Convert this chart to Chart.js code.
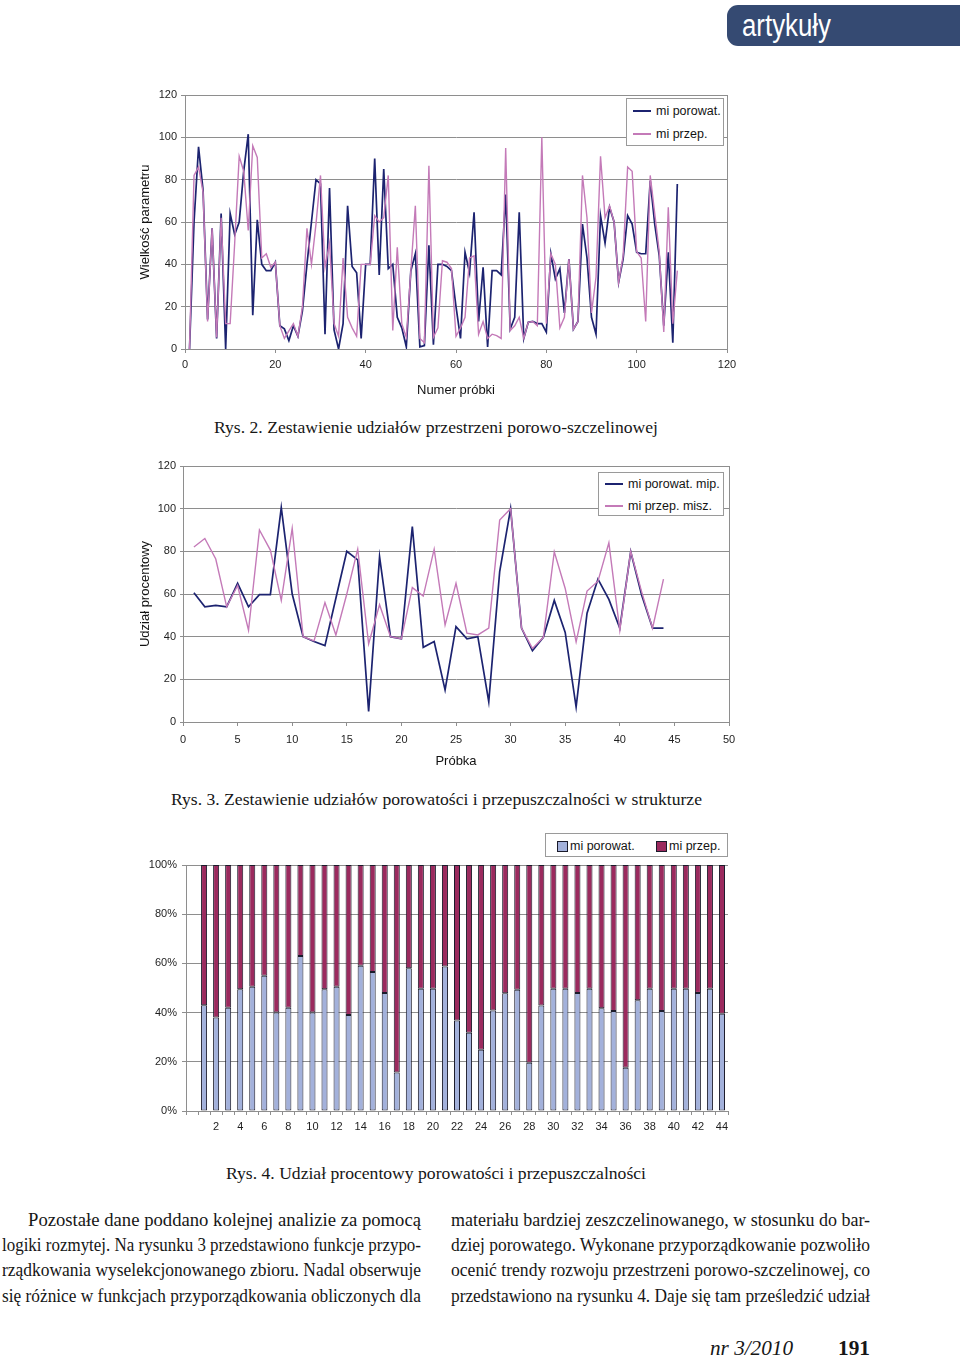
<!DOCTYPE html>
<html><head><meta charset="utf-8">
<script src="https://cdn.jsdelivr.net/npm/chart.js@4.4.0/dist/chart.umd.min.js"></script>
<style>
html,body{margin:0;padding:0;background:#fff;}
body{width:960px;height:1356px;position:relative;overflow:hidden;font-family:"Liberation Sans",Arial,sans-serif;}
.cv{position:absolute;}
.fit{position:absolute;white-space:nowrap;transform-origin:0 50%;line-height:1;}
.serif{font-family:"Liberation Serif","Times New Roman",serif;color:#161616;}
.legend{position:absolute;background:#fff;border:1px solid #9a9a9a;box-sizing:border-box;font-family:"Liberation Sans",Arial,sans-serif;font-size:12.5px;color:#141414;}
.legend .ln{position:absolute;height:2px;}
.legend .tx{position:absolute;white-space:nowrap;line-height:1;}
.legend .sw{position:absolute;width:9px;height:9px;border:1px solid #1b1b2b;}
#hdr{position:absolute;left:727px;top:5px;width:260px;height:41px;background:#354a72;border-radius:11px;}
</style></head>
<body>
<div id="hdr"></div>
<div class="fit" data-w="89" style="left:742px;top:10px;font-size:31px;color:#fff;font-family:'Liberation Sans',Arial,sans-serif;">artykuły</div>

<canvas id="c1" class="cv" width="620" height="320" style="left:130px;top:80px;"></canvas>
<div class="legend" style="left:626px;top:98px;width:98px;height:48px;">
  <div class="ln" style="left:6px;top:11px;width:18px;background:#1c2370;"></div>
  <div class="tx" style="left:29px;top:6px;">mi porowat.</div>
  <div class="ln" style="left:6px;top:34px;width:18px;background:#c47ab8;height:1.5px;"></div>
  <div class="tx" style="left:29px;top:29px;">mi przep.</div>
</div>
<div class="fit serif" data-w="444" style="left:214px;top:419px;font-size:17px;">Rys. 2. Zestawienie udziałów przestrzeni porowo-szczelinowej</div>

<canvas id="c2" class="cv" width="620" height="330" style="left:130px;top:450px;"></canvas>
<div class="legend" style="left:598px;top:472px;width:126px;height:44px;">
  <div class="ln" style="left:6px;top:10px;width:18px;background:#1c2370;"></div>
  <div class="tx" style="left:29px;top:5px;">mi porowat. mip.</div>
  <div class="ln" style="left:6px;top:32px;width:18px;background:#c47ab8;height:1.5px;"></div>
  <div class="tx" style="left:29px;top:27px;">mi przep. misz.</div>
</div>
<div class="fit serif" data-w="531" style="left:171px;top:791px;font-size:17px;">Rys. 3. Zestawienie udziałów porowatości i przepuszczalności w strukturze</div>

<canvas id="c3" class="cv" width="620" height="320" style="left:130px;top:825px;"></canvas>
<div class="legend" style="left:545px;top:833px;width:183px;height:24px;">
  <div class="sw" style="left:11px;top:7px;background:#a3b1db;"></div>
  <div class="tx" style="left:24px;top:6px;">mi porowat.</div>
  <div class="sw" style="left:110px;top:7px;background:#9b2a5e;"></div>
  <div class="tx" style="left:123px;top:6px;">mi przep.</div>
</div>
<div class="fit serif" data-w="420" style="left:226px;top:1165px;font-size:17px;">Rys. 4. Udział procentowy porowatości i przepuszczalności</div>

<div class="fit serif" data-w="393" style="left:28px;top:1211px;font-size:18px;">Pozostałe dane poddano kolejnej analizie za pomocą</div>
<div class="fit serif" data-w="419" style="left:2px;top:1236px;font-size:18px;">logiki rozmytej. Na rysunku 3 przedstawiono funkcje przypo-</div>
<div class="fit serif" data-w="419" style="left:2px;top:1261px;font-size:18px;">rządkowania wyselekcjonowanego zbioru. Nadal obserwuje</div>
<div class="fit serif" data-w="419" style="left:2px;top:1287px;font-size:18px;">się różnice w funkcjach przyporządkowania obliczonych dla</div>

<div class="fit serif" data-w="419" style="left:451px;top:1211px;font-size:18px;">materiału bardziej zeszczelinowanego, w stosunku do bar-</div>
<div class="fit serif" data-w="419" style="left:451px;top:1236px;font-size:18px;">dziej porowatego. Wykonane przyporządkowanie pozwoliło</div>
<div class="fit serif" data-w="419" style="left:451px;top:1261px;font-size:18px;">ocenić trendy rozwoju przestrzeni porowo-szczelinowej, co</div>
<div class="fit serif" data-w="419" style="left:451px;top:1287px;font-size:18px;">przedstawiono na rysunku 4. Daje się tam prześledzić udział</div>

<div class="fit serif" data-w="83" style="left:710px;top:1338px;font-size:20px;font-style:italic;">nr 3/2010</div>
<div class="fit serif" data-w="32" style="left:838px;top:1338px;font-size:20px;font-weight:bold;">191</div>

<script>
// ---- Rys. 2 data ----
const sampleNo1 = Array.from({length:109},(_,i)=>i+1);
const miPorowat1 = [0,60,95.5,75,14,57,5,64,0,64, 54,60,84,101.5,16,61,40,37,37,41, 11,9.5,4,11,6,18,40,60,80,78, 7,76,9,0,12,67.7,39,36,5,40, 40,90,35,85,38,40,15,10,1,37, 45,1,1.6,49,2,40,40,39,37,20, 5,45.7,36,64.6,13,38.6,1,37,37,35, 73,9.4,15,64.6,5,12.6,13,12,12,8, 45,33,38,17,42.5,9.4,13,59,43,15, 7,63,50,67,60,31.5,42.5,63,59,45.7, 45,45,79.5,59,44,11,45.7,3,78];
const miPrzep1 = [0,82,86,74,13,57,5.5,62,12,12, 50,91,84,56,96,90.5,43,45,38.6,41, 11,5,8.6,12,6,20,57,40,59,82, 38.6,50,12,6,43,15,10,6,40,40, 40,63,60,62,82,8.7,48,12,5.5,37, 67.7,5,3,86.6,5.5,10,41.7,41,38,6, 10,15,43,44,7,13,5,7,6.3,5, 95,8.7,11,15,5,12.6,13,11,100,12, 45,40,10,15,42.5,9.4,13,82,62,17, 34,91,62,67.7,60,31.5,44,86,84,46, 43,13,82,64,46,8,67,12,37];

// ---- Rys. 3 data ----
const sampleNo2 = Array.from({length:44},(_,i)=>i+1);
const miPorowatMip2 = [60.6,54,54.7,54,65,54,59.7,59.7,100.5,60, 40,37.7,35.8,58,80,76,5,77.5,40,39, 91.6,35,37.7,15,44.7,39,40,9.5,70.5,100, 44,33.4,39.7,57,42,7,51,67,57.5,44, 79.8,59.5,44,44];
const miPrzepMisz2 = [82,86,76.4,54,64,43,90,80.6,57,90.8, 40,38,56,40.8,60,81,36.6,55,40,39, 63,59,81,45.5,65,41.6,40.8,44,94.7,100, 44,34.5,39.7,79.8,62.6,37.6,61.4,66,84,43, 80,61,44,67];

// ---- Rys. 4 data ----
const sampleNo3 = ['1','2','3','4','5','6','7','8','9','10','11','12','13','14','15','16','17','18','19','20','21','22','23','24','25','26','27','28','29','30','31','32','33','34','35','36','37','38','39','40','41','42','43','44'];
const pctPorowat3 = [43,38,42,49.5,50.5,55,40,42,63,40, 49.5,50.5,39,59,56.5,48,15.6,58,49.7,49.7, 58.7,36.8,31.8,24.9,40.9,47.9,49.3,19.6,42.9,49.7, 49.7,48,49.7,41.8,40.6,17.6,45,49.7,40.6,49.7, 49.7,48,49.7,39.5];
const pctPrzep3 = [57,62,58,50.5,49.5,45,60,58,37,60, 50.5,49.5,61,41,43.5,52,84.4,42,50.3,50.3, 41.3,63.2,68.2,75.1,59.1,52.1,50.7,80.4,57.1,50.3, 50.3,52,50.3,58.2,59.4,82.4,55,50.3,59.4,50.3, 50.3,52,50.3,60.5];
const pctTicks = [0,20,40,60,80,100];

const BLUE='#1c2370', PINK='#c47ab8', GRID='#8e8e8e';
Chart.defaults.font.family='"Liberation Sans", Arial, sans-serif';
Chart.defaults.color='#1e1e1e';

const frame={id:'frame',beforeDatasetsDraw(chart){const {ctx,chartArea:a}=chart;ctx.save();ctx.strokeStyle=GRID;ctx.lineWidth=1;
 ctx.strokeRect(Math.round(a.left)+0.5,Math.round(a.top)+0.5,Math.round(a.right-a.left),Math.round(a.bottom-a.top));ctx.restore();}};

function lineChart(id, labels, s1, s2, names, xmax, xstep, xtitle, ytitle, geo){
  return new Chart(document.getElementById(id),{
    type:'line',
    data:{labels,datasets:[
      {label:names[0],data:s1,borderColor:BLUE,borderWidth:1.7,pointRadius:0,tension:0,order:2},
      {label:names[1],data:s2,borderColor:PINK,borderWidth:1.4,pointRadius:0,tension:0,order:1}
    ]},
    options:{responsive:false,animation:false,events:[],
      layout:{padding:{left:0,top:geo.top,right:geo.right,bottom:0}},
      plugins:{legend:{display:false},tooltip:{enabled:false}},
      scales:{
        x:{type:'linear',min:0,max:xmax,ticks:{stepSize:xstep,font:{size:11},padding:geo.xpad,maxRotation:0},
           grid:{drawOnChartArea:false,tickLength:4,color:GRID},border:{color:GRID},
           title:{display:true,text:xtitle,font:{size:13},color:'#111',padding:{top:0,bottom:geo.xtb}},
           afterFit(s){s.height=geo.xh;}},
        y:{min:0,max:120,ticks:{stepSize:20,font:{size:11},padding:4},
           grid:{color:GRID,tickLength:geo.ytl},border:{color:GRID},
           title:{display:true,text:ytitle,font:{size:13},color:'#111',padding:{top:8,bottom:0}},
           afterFit(s){s.width=geo.yw;}}
      }
    },
    plugins:[frame]
  });
}

lineChart('c1', sampleNo1, miPorowat1, miPrzep1, ['mi porowat.','mi przep.'], 120, 20, 'Numer próbki', 'Wielkość parametru',
  {top:15,right:23,xh:51,yw:55,xpad:5,xtb:2,ytl:4});
lineChart('c2', sampleNo2, miPorowatMip2, miPrzepMisz2, ['mi porowat. mip.','mi przep. misz.'], 50, 5, 'Próbka', 'Udział procentowy',
  {top:16,right:21,xh:58,yw:53,xpad:7,xtb:11,ytl:3});

new Chart(document.getElementById('c3'),{
  type:'bar',
  data:{labels:['',...sampleNo3],datasets:[
    {label:'mi porowat.',data:[null,...pctPorowat3],backgroundColor:'#a3b1db',borderColor:'#1b1b2b',borderWidth:1,borderSkipped:false,barPercentage:0.5,categoryPercentage:1},
    {label:'mi przep.',data:[null,...pctPrzep3],backgroundColor:'#9b2a5e',borderColor:'#1b1b2b',borderWidth:1,borderSkipped:false,barPercentage:0.5,categoryPercentage:1}
  ]},
  options:{responsive:false,animation:false,events:[],
    layout:{padding:{left:0,top:40,right:22,bottom:0}},
    plugins:{legend:{display:false},tooltip:{enabled:false}},
    scales:{
      x:{stacked:true,ticks:{autoSkip:false,maxRotation:0,font:{size:11},padding:5,
           callback(v){const l=this.getLabelForValue(v);return (l!==''&&(+l)%2===0)?l:'';}},
         grid:{drawOnChartArea:false,offset:true,tickLength:4,color:GRID},border:{color:GRID},
         afterFit(s){s.height=34;}},
      y:{stacked:true,min:0,max:100,afterBuildTicks(s){s.ticks=pctTicks.map(v=>({value:v}));},
         ticks:{font:{size:11},padding:5,callback:v=>v+'%'},
         grid:{color:GRID,tickLength:4},border:{color:GRID},
         afterFit(s){s.width=56;}}
    }
  }
});

function fitAll(){document.querySelectorAll('[data-w]').forEach(el=>{el.style.transform='none';const nw=el.getBoundingClientRect().width;el.style.transform='scaleX('+(+el.dataset.w/nw)+')';});}
fitAll();
if(document.fonts&&document.fonts.ready)document.fonts.ready.then(fitAll);
</script>
</body></html>
